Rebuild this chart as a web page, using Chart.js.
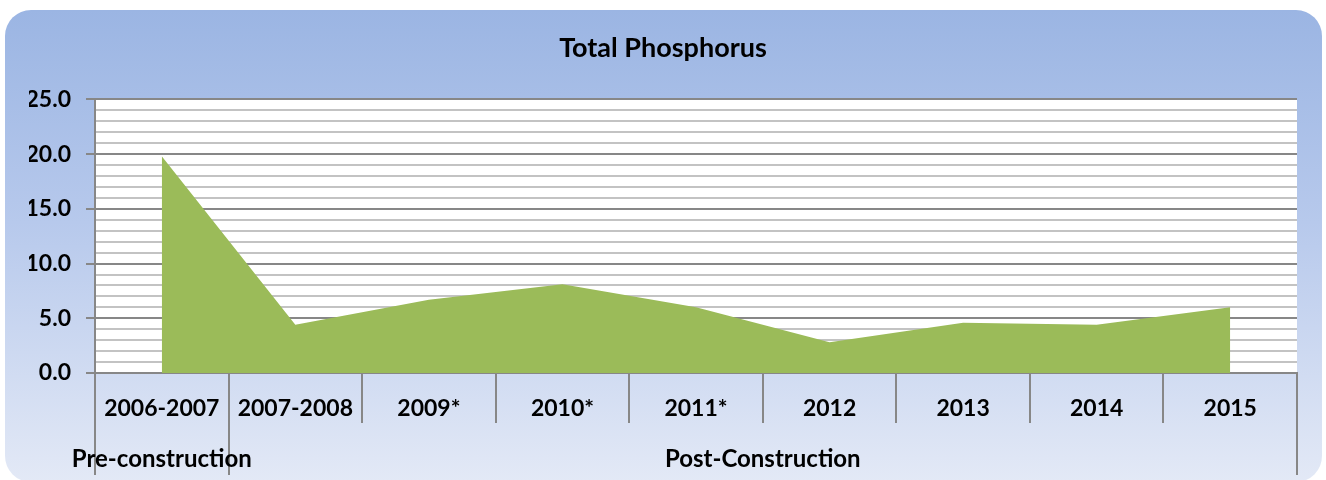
<!DOCTYPE html>
<html>
<head>
<meta charset="utf-8">
<script src="https://cdn.jsdelivr.net/npm/chart.js@4/dist/chart.umd.min.js"></script>
<style>
    html, body { margin: 0; padding: 0; background: #fff; }
    body { width: 1326px; height: 480px; position: relative; overflow: hidden; }
    .card {
        position: absolute; left: 5px; top: 10px; width: 1317px; height: 472px;
        border-radius: 26px;
        background: linear-gradient(to bottom, #9bb5e3 0%, #b7c9ec 45%, #e3e9f6 100%);
    }
    #wrap { position: absolute; left: 0; top: 0; width: 1326px; height: 480px; }
</style>
</head>
<body>
<div class="card"></div>
<div id="wrap"><canvas id="phosChart" width="1326" height="480"></canvas></div>
<script>
// Chart data
const periods = ['2006-2007', '2007-2008', '2009*', '2010*', '2011*', '2012', '2013', '2014', '2015'];
const phosphorus = [19.8, 4.4, 6.7, 8.1, 6.0, 2.8, 4.6, 4.4, 6.0];
const groups = ['Pre-construction', 'Post-Construction'];
const groupSpans = [1, 8];   // number of periods in each group
const yTicks = [0, 5, 10, 15, 20, 25];

const FONT = 'Lato, "Open Sans", sans-serif';
const AXIS_GREY = '#878787';

// white plot background
const plotBackground = {
    id: 'plotBackground',
    beforeDraw(chart) {
        const { ctx, chartArea } = chart;
        ctx.save();
        ctx.fillStyle = '#ffffff';
        ctx.fillRect(chartArea.left, chartArea.top, chartArea.right - chartArea.left, chartArea.bottom - chartArea.top);
        ctx.restore();
    }
};

// category separators and the second label row (groups)
const groupAxis = {
    id: 'groupAxis',
    afterDraw(chart) {
        const { ctx, chartArea } = chart;
        const x = chart.scales.x;
        const half = (x.getPixelForTick(1) - x.getPixelForTick(0)) / 2;
        ctx.save();
        ctx.strokeStyle = AXIS_GREY;
        ctx.lineWidth = 2;

        // short separators between categories
        for (let i = 0; i <= periods.length; i++) {
            const px = Math.round(x.getPixelForTick(0) - half + i * half * 2);
            ctx.beginPath();
            ctx.moveTo(px, chartArea.bottom);
            ctx.lineTo(px, chartArea.bottom + 50);
            ctx.stroke();
        }

        // group boundaries + group labels
        let start = 0;
        const bounds = [start];
        groupSpans.forEach(n => { start += n; bounds.push(start); });
        bounds.forEach(b => {
            const px = Math.round(x.getPixelForTick(0) - half + b * half * 2);
            ctx.beginPath();
            ctx.moveTo(px, chartArea.bottom);
            ctx.lineTo(px, chartArea.bottom + 102);
            ctx.stroke();
        });

        ctx.fillStyle = '#000';
        ctx.font = 'bold 24px ' + FONT;
        ctx.textAlign = 'center';
        ctx.textBaseline = 'middle';
        groups.forEach((g, i) => {
            const first = bounds[i];
            const last = bounds[i + 1] - 1;
            const cx = (x.getPixelForTick(first) + x.getPixelForTick(last)) / 2;
            ctx.fillText(g, cx, chartArea.bottom + 86);
        });
        ctx.restore();
    }
};

new Chart(document.getElementById('phosChart'), {
    type: 'line',
    data: {
        labels: periods,
        datasets: [{
            label: 'Total Phosphorus',
            data: phosphorus,
            backgroundColor: '#9bbb59',
            borderColor: '#9bbb59',
            borderWidth: 0,
            pointRadius: 0,
            tension: 0,
            fill: 'origin'
        }]
    },
    options: {
        responsive: false,
        animation: false,
        layout: {
            padding: { left: 29, right: 29, top: 0, bottom: 0 }
        },
        plugins: {
            legend: { display: false },
            tooltip: { enabled: false },
            title: {
                display: true,
                text: 'Total Phosphorus',
                color: '#000',
                font: { family: FONT, size: 27, weight: 'bold' },
                padding: { top: 32, bottom: 35 }
            }
        },
        scales: {
            x: {
                offset: true,
                grid: { display: false },
                border: { display: true, color: AXIS_GREY, width: 2 },
                ticks: {
                    color: '#000',
                    font: { family: FONT, size: 23, weight: 'bold' },
                    padding: 14,
                    maxRotation: 0,
                    autoSkip: false
                },
                afterFit(scale) { scale.height = 107; }
            },
            y: {
                min: 0,
                max: 25,
                border: { display: true, color: AXIS_GREY, width: 2 },
                grid: {
                    color: ctx => (ctx.tick && ctx.tick.value % 5 === 0) ? AXIS_GREY : '#c3c3c3',
                    lineWidth: 2,
                    tickLength: 9,
                    tickColor: ctx => (ctx.tick && ctx.tick.value % 5 === 0) ? AXIS_GREY : 'rgba(0,0,0,0)'
                },
                ticks: {
                    stepSize: 1,
                    autoSkip: false,
                    color: '#000',
                    padding: 15,
                    font: { family: FONT, size: 23, weight: 'bold' },
                    callback: v => yTicks.includes(v) ? v.toFixed(1) : ''
                },
                afterFit(scale) { scale.width = 66; }
            }
        }
    },
    plugins: [plotBackground, groupAxis]
});
</script>
</body>
</html>
